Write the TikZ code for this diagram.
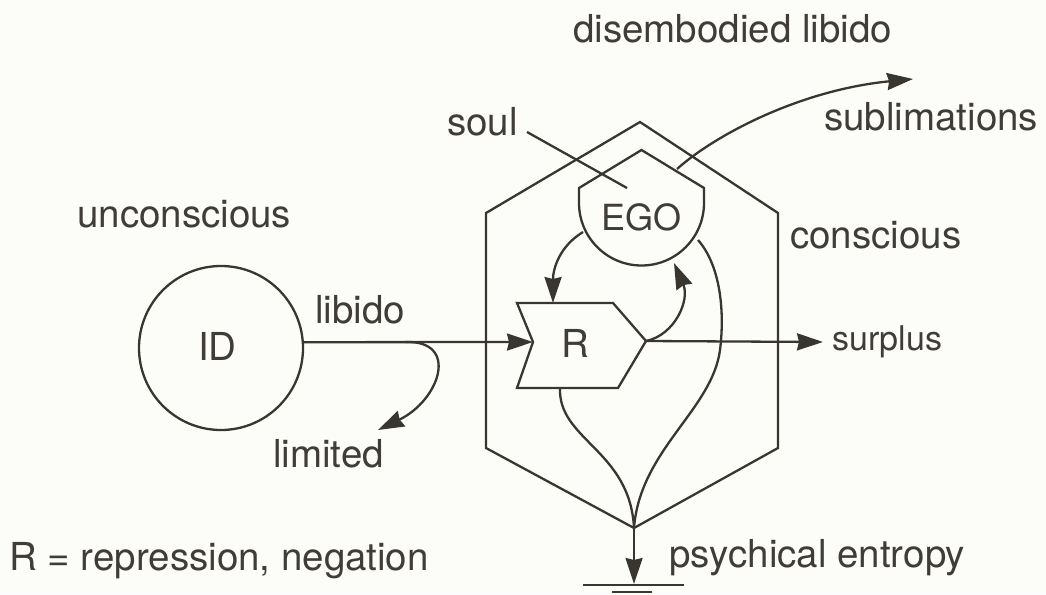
\documentclass[tikz,border=0pt]{standalone}
\usepackage{fontspec}
\setmainfont{TeX Gyre Heros}
\usetikzlibrary{arrows.meta}
\definecolor{ink}{HTML}{38362F}
\definecolor{txt}{HTML}{403D38}
\definecolor{paper}{HTML}{FCFCF9}
\tikzset{
  lbl/.style={anchor=base west, inner sep=0pt, text=txt, font=\fontsize{38.5}{41}\selectfont},
  small/.style={lbl, font=\fontsize{34}{36}\selectfont},
  shapeline/.style={draw=ink, line width=2.3pt, line join=miter},
  conn/.style={draw=ink, line width=2.3pt},
  arr/.style={conn, -{Stealth[length=26pt,width=17pt,inset=2pt]}},
}
\begin{document}
\begin{tikzpicture}[x=1pt,y=-1pt]
\useasboundingbox[fill=paper] (0,0) rectangle (1046,594);

% outer hexagon (conscious)
\draw[shapeline] (640,122) -- (778,213) -- (778,448) -- (634,528) -- (486,448) -- (486,213) -- cycle;
\coordinate (bottom) at (634,528);

% EGO shield
\draw[shapeline] (641.5,150) -- (704,188) -- (704,203) arc[start angle=0, end angle=180, radius=62.5] -- (579,188) -- cycle;
\node[lbl, font=\fontsize{36}{38}\selectfont] (ego) at (601,230) {EGO};

% R chevron
\draw[shapeline] (517,303) -- (613,303) -- (646,341) -- (618,388) -- (517,388) -- (533,342) -- cycle;
\node[lbl] (r) at (561,357) {R};
\coordinate (Rnotch) at (533,342);
\coordinate (Rtip) at (646,341);
\coordinate (Rtop) at (553,303);
\coordinate (Rbot) at (560,388);

% ID circle
\node[circle, draw=ink, line width=2.3pt, minimum size=164pt, inner sep=0pt] (id) at (221,348) {};
\node[lbl] (idt) at (198,360) {ID};

% EGO connection points
\coordinate (egoL) at (583,232);
\coordinate (egoBR) at (674,263);
\coordinate (egoR) at (698,240);
\coordinate (egoTR) at (677,169);

% labels
\node[lbl] (dis) at (573,43) {disembodied libido};
\node[lbl] (subl) at (824,130) {sublimations};
\node[lbl] (soul) at (447,135) {soul};
\node[lbl] (uncon) at (77,227) {unconscious};
\node[lbl] (con) at (790,248) {conscious};
\node[lbl] (lib) at (315,323) {libido};
\node[small] (surp) at (832,350) {surplus};
\node[lbl] (lim) at (273,467) {limited};
\node[lbl] (rdef) at (9,570) {R = repression, negation};
\node[lbl] (psy) at (669,567) {psychical entropy};

% connectors
\draw[arr] (id.4) -- (Rnotch);
\coordinate (split) at (405,342);
\coordinate (limtip) at (378,430);
\draw[arr] (split) .. controls (460,340) and (440,400) .. (limtip);
\coordinate (surpend) at (823,342);
\draw[arr] (Rtip) -- (surpend);
\draw[arr] (Rtip) .. controls (675,335) and (690,300) .. (egoBR);
\draw[arr] (egoL) .. controls (560,246) and (553,268) .. (Rtop);
\draw[conn] (egoR) .. controls (720,265) and (725,310) .. (720,350) .. controls (712,410) and (640,450) .. (bottom);
\draw[conn] (Rbot) .. controls (558,440) and (630,450) .. (bottom);
\coordinate (subtip) at (913,79);
\draw[arr] (egoTR) .. controls (715,135) and (800,90) .. (subtip);
\coordinate (soultail) at (527,132);
\coordinate (soulhead) at (627,188);
\draw[conn] (soultail) -- (soulhead);

% ground
\coordinate (gnd) at (634,584);
\draw[arr] (bottom) -- (gnd);
\draw[conn] (583,585) -- (684,585);
\draw[conn] (612,592) -- (652,592);
\end{tikzpicture}
\end{document}
